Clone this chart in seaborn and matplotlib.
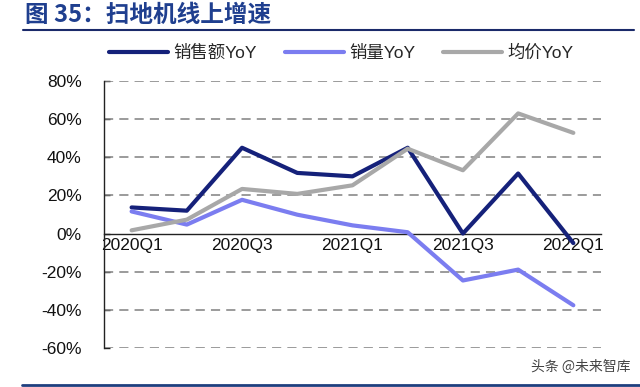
import matplotlib
matplotlib.use("Agg")
import matplotlib.pyplot as plt
import seaborn as sns
import pandas as pd
from matplotlib.lines import Line2D
from matplotlib.ticker import FixedLocator

quarters = ["2020Q1", "2020Q2", "2020Q3", "2020Q4", "2021Q1", "2021Q2", "2021Q3", "2021Q4", "2022Q1"]
sales_yoy = [13.7, 12.0, 45.0, 31.8, 30.0, 45.0, 0.0, 31.5, -5.0]
volume_yoy = [11.6, 4.7, 17.7, 9.9, 4.3, 0.7, -24.6, -18.9, -37.6]
price_yoy = [1.7, 7.3, 23.4, 20.8, 25.3, 44.5, 33.2, 63.0, 52.8]
series_names = ["销售额YoY", "销量YoY", "均价YoY"]
yticks = [-60, -40, -20, 0, 20, 40, 60, 80]

sns.set_theme(style="white")
plt.rcParams['font.family'] = ['Liberation Sans', 'Noto Sans CJK SC', 'DejaVu Sans']

rows = []
for name, vals in zip(series_names, [sales_yoy, volume_yoy, price_yoy]):
    for i, v in enumerate(vals):
        rows.append({"idx": i, "val": v, "series": name})
df = pd.DataFrame(rows)

colors = {"销售额YoY": "#15217a", "销量YoY": "#7b7df0", "均价YoY": "#a8a8a8"}

fig = plt.figure(figsize=(6.4, 3.87), dpi=100)
ax = fig.add_axes([0.1625, 0.1008, 0.7765, 0.6899])
sns.lineplot(data=df, x="idx", y="val", hue="series", hue_order=series_names,
             palette=colors, linewidth=3.0, ax=ax, legend=False, zorder=3)

ax.set_xlim(-0.5, 8.5)
ax.set_ylim(-60, 80)
ax.set_yticks(yticks)
ax.set_yticklabels([f"{t}%" for t in yticks], fontsize=12.5, color="#111111")
for t in yticks:
    if t != 0:
        ax.axhline(t, color="#808080", linestyle=(0, (6, 4)), linewidth=1.1, zorder=1)

ax.spines['bottom'].set_position(('data', 0))
ax.spines['top'].set_visible(False)
ax.spines['right'].set_visible(False)
ax.spines['left'].set_color("#222222")
ax.spines['bottom'].set_color("#222222")
ax.spines['left'].set_linewidth(1.0)
ax.spines['bottom'].set_linewidth(1.0)

ax.set_xticks(list(range(0, 9, 2)))
ax.set_xticklabels([quarters[i] for i in range(0, 9, 2)], fontsize=12.5, color="#111111")
ax.xaxis.set_minor_locator(FixedLocator([i - 0.5 for i in range(10)]))
ax.tick_params(axis='x', which='major', length=0, pad=3)
ax.tick_params(axis='x', which='minor', length=5, direction='in', color="#222222", width=1.0)
ax.tick_params(axis='y', which='major', length=4, direction='in', color="#222222", width=1.0, left=True, pad=16)
ax.set_xlabel("")
ax.set_ylabel("")

handles = [Line2D([0], [0], color=colors[n], linewidth=3.0) for n in series_names]
fig.legend(handles, series_names, loc='center', bbox_to_anchor=(0.533, 1 - 53 / 387), ncol=3,
           frameon=False, fontsize=12.5, handlelength=3.4, columnspacing=1.6, handletextpad=0.3)

fig.text(0.039, 1 - 15 / 387, "图 35：扫地机线上增速", fontsize=17, fontweight='bold', color="#1f3f8f",
         va='center', ha='left', family=['Noto Sans CJK SC', 'DejaVu Sans'])
fig.add_artist(Line2D([0.036, 0.99], [1 - 30 / 387, 1 - 30 / 387], color="#1a2a6a", linewidth=1.5,
                      transform=fig.transFigure))
fig.add_artist(Line2D([0.034, 1.0], [1 - 385 / 387, 1 - 385 / 387], color="#1f3f7f", linewidth=2.0,
                      transform=fig.transFigure))
fig.text(0.985, 1 - 367 / 387, "头条 @未来智库", fontsize=10, color="#444444", ha='right', va='center',
         family=['Noto Sans CJK SC', 'DejaVu Sans'])

fig.savefig("out.png", dpi=100)
